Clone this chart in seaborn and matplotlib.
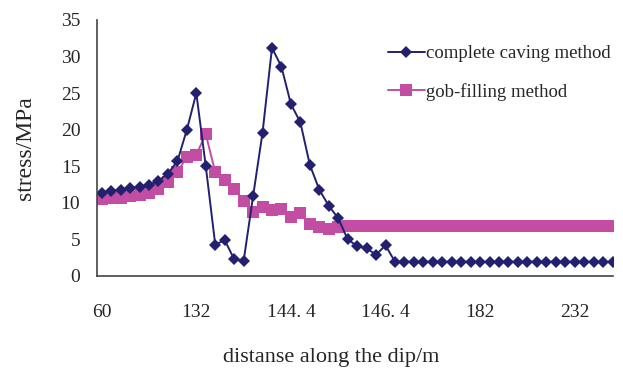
import numpy as np
import pandas as pd
import seaborn as sns
import matplotlib.pyplot as plt

# stress along the dip (one value per category)
caving = [11.4, 11.6, 11.8, 12.0, 12.2, 12.5, 13.0, 14.0, 15.7, 20.0,
          25.0, 15.0, 4.3, 4.9, 2.3, 2.05, 10.9, 19.6, 31.2, 28.6,
          23.5, 21.0, 15.2, 11.8, 9.6, 7.9, 5.0, 4.1, 3.8, 2.9,
          4.2, 1.95] + [1.95] * 23
filling = [10.5, 10.6, 10.7, 10.9, 11.1, 11.4, 11.9, 12.9, 14.2, 16.3,
           16.6, 19.4, 14.2, 13.1, 11.9, 10.3, 8.7, 9.4, 9.0, 9.2,
           8.0, 8.6, 7.1, 6.7, 6.4, 6.7] + [6.8] * 29

label_pos = [0, 10, 20, 30, 40, 50]
label_txt = ["60", "132", "144. 4", "146. 4", "182", "232"]
y_ticks = [0, 5, 10, 15, 20, 25, 30, 35]

series_names = ["complete caving method", "gob-filling method"]

df = pd.DataFrame({"idx": np.arange(len(caving)), "caving": caving, "filling": filling})

sns.set_style("white")
plt.rcParams["font.family"] = ["Liberation Serif", "DejaVu Serif"]

fig = plt.figure(figsize=(6.23, 3.70), dpi=100)
ax = fig.add_axes([97 / 623, 1 - 276 / 370, (613 - 97) / 623, 256 / 370])

navy = "#23206f"
pink = "#c24da2"

sns.lineplot(data=df, x="idx", y="filling", ax=ax, color=pink, lw=1.4,
             marker="s", markersize=8, markeredgewidth=0, label=series_names[1])
sns.lineplot(data=df, x="idx", y="caving", ax=ax, color=navy, lw=1.4,
             marker="D", markersize=6.2, markeredgewidth=0, label=series_names[0])

ax.set_xlim(-0.5, 54.05)
ax.set_ylim(0, 35)
ax.set_yticks(y_ticks)
ax.set_yticklabels([str(v) for v in y_ticks], fontsize=14)

# tick marks between categories every 5, labels every 10
ax.set_xticks(np.arange(-0.5, 54, 5))
ax.set_xticklabels([])
ax.set_xticks(label_pos, minor=True)
ax.set_xticklabels(label_txt, minor=True, fontsize=14)
ax.tick_params(axis="x", which="major", direction="in", length=5, width=1, color="#444444")
ax.tick_params(axis="x", which="minor", length=0, pad=20.5)
ax.tick_params(axis="y", direction="in", length=4, width=1, color="#444444", pad=12)

for side in ["top", "right"]:
    ax.spines[side].set_visible(False)
for side in ["left", "bottom"]:
    ax.spines[side].set_color("#444444")
    ax.spines[side].set_linewidth(1.2)

ax.set_xlabel("distanse along the dip/m", fontsize=16)
ax.set_ylabel("stress/MPa", fontsize=17)
ax.xaxis.set_label_coords(0.453, -0.28)
ax.yaxis.set_label_coords(-0.118, 0.5)

handles, labels = ax.get_legend_handles_labels()
ax.legend(handles[::-1], labels[::-1], loc="upper left",
          bbox_to_anchor=(388 / 623, 1 - 45 / 370), bbox_transform=fig.transFigure,
          frameon=False, fontsize=13.5, handlelength=1.95, handletextpad=0.05,
          labelspacing=1.1, borderaxespad=0, borderpad=0)

fig.savefig("out.png", dpi=100)
